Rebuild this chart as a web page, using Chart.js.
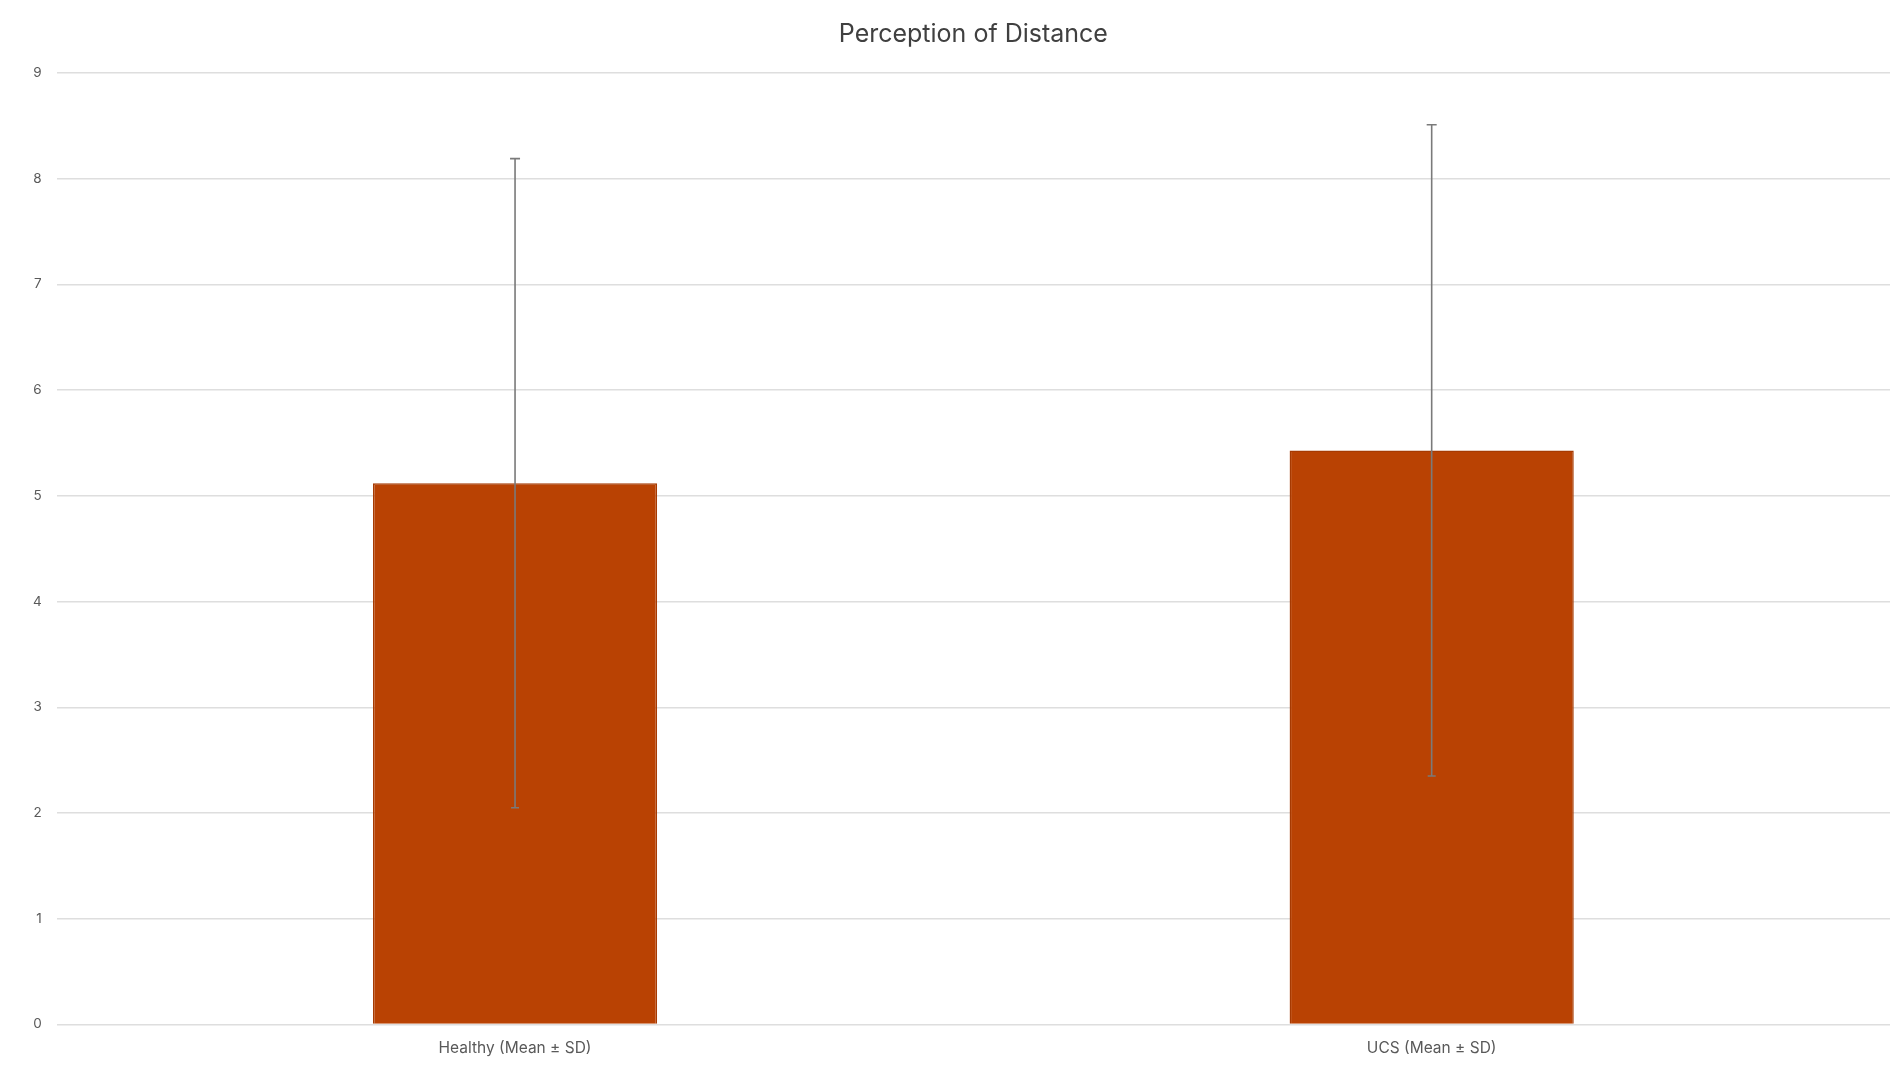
<!DOCTYPE html>
<html>
<head>
<meta charset="utf-8">
<script src="https://cdn.jsdelivr.net/npm/chart.js@4.4.1/dist/chart.umd.min.js"></script>
<style>
  html, body { margin: 0; padding: 0; background: #fff; }
  #wrap { width: 1890px; height: 1088px; position: relative; }
</style>
</head>
<body>
<div id="wrap"><canvas id="distChart"></canvas></div>
<script>
var groups = ['Healthy (Mean \u00b1 SD)', 'UCS (Mean \u00b1 SD)'];
var means = [5.12, 5.43];
var sds = [3.07, 3.08];
var yTicks = [0, 1, 2, 3, 4, 5, 6, 7, 8, 9];

// draws the mean +/- SD whiskers on top of the bars
var errorBars = {
  id: 'errorBars',
  afterDatasetsDraw: function(chart) {
    var ctx = chart.ctx;
    var meta = chart.getDatasetMeta(0);
    var y = chart.scales.y;
    ctx.save();
    ctx.strokeStyle = '#7a7a7a';
    ctx.lineWidth = 1.6;
    meta.data.forEach(function(bar, i) {
      var top = y.getPixelForValue(means[i] + sds[i]);
      var bot = y.getPixelForValue(means[i] - sds[i]);
      var x = bar.x;
      ctx.beginPath();
      ctx.moveTo(x, top); ctx.lineTo(x, bot);
      ctx.moveTo(x - 5, top); ctx.lineTo(x + 5, top);
      ctx.moveTo(x - 4, bot); ctx.lineTo(x + 4, bot);
      ctx.stroke();
    });
    ctx.restore();
  }
};

new Chart(document.getElementById('distChart'), {
  type: 'bar',
  data: {
    labels: groups,
    datasets: [{
      data: means,
      backgroundColor: '#b94203',
      borderColor: '#a63a02',
      borderWidth: 1.5,
      categoryPercentage: 1,
      barPercentage: 0.31
    }]
  },
  options: {
    responsive: true,
    maintainAspectRatio: false,
    animation: false,
    layout: { padding: { left: 18, right: -13, top: 0, bottom: 23 } },
    plugins: {
      legend: { display: false },
      tooltip: { enabled: false },
      title: {
        display: true,
        text: 'Perception of Distance',
        fullSize: false,
        color: '#404040',
        font: { family: 'Inter', size: 25, weight: 'normal' },
        padding: { top: 19, bottom: 24 }
      }
    },
    scales: {
      x: {
        grid: { display: false },
        border: { display: false },
        ticks: {
          color: '#595959',
          font: { family: 'Inter', size: 15.5 },
          padding: 7
        }
      },
      y: {
        min: 0,
        max: 9,
        afterBuildTicks: function(scale) {
          scale.ticks = yTicks.map(function(v) { return { value: v }; });
        },
        grid: { color: '#dedede', lineWidth: 1.5, drawTicks: false },
        border: { display: false },
        ticks: {
          color: '#595959',
          font: { family: 'Inter', size: 13.5 },
          padding: 15
        }
      }
    }
  },
  plugins: [errorBars]
});
</script>
</body>
</html>
